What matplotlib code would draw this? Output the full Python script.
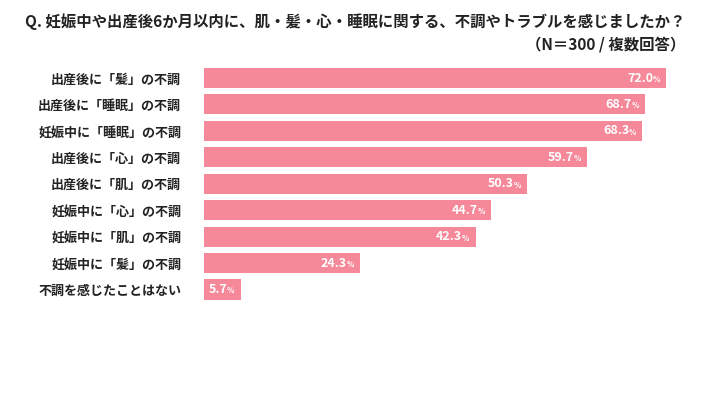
import matplotlib
matplotlib.use("Agg")
import matplotlib.pyplot as plt

plt.rcParams['font.family'] = ['Noto Sans CJK JP', 'DejaVu Sans']

categories = ["出産後に「髪」の不調", "出産後に「睡眠」の不調", "妊娠中に「睡眠」の不調",
              "出産後に「心」の不調", "出産後に「肌」の不調", "妊娠中に「心」の不調",
              "妊娠中に「肌」の不調", "妊娠中に「髪」の不調", "不調を感じたことはない"]
values = [72.0, 68.7, 68.3, 59.7, 50.3, 44.7, 42.3, 24.3, 5.7]
title1 = "Q. 妊娠中や出産後6か月以内に、肌・髪・心・睡眠に関する、不調やトラブルを感じましたか？"
title2 = "（N＝300 / 複数回答）"

W, H = 710, 399
fig = plt.figure(figsize=(W/100, H/100), dpi=100)
ax = fig.add_axes([204/W, (H-302.7)/H, 481.5/W, (302.7-64.8)/H])
color = "#F5899A"
y = list(range(len(categories)))
ax.barh(y, values, height=0.76, color=color)
ax.set_xlim(0, 75)
ax.set_ylim(len(categories)-0.5, -0.5)
ax.set_yticks(y)
ax.set_yticklabels(categories, fontsize=9.4, fontweight='bold', color="#222222")
ax.tick_params(axis='y', length=0, pad=16.5)
ax.set_xticks([])
for s in ax.spines.values():
    s.set_visible(False)

for yi, v in zip(y, values):
    ax.annotate(f"{v:.1f}", xy=(v, yi), xytext=(-9.5, 0), textcoords='offset points',
                ha='right', va='center', color='white', fontsize=9, fontweight='bold')
    ax.annotate("%", xy=(v, yi), xytext=(-4.5, -1), textcoords='offset points',
                ha='right', va='center', color='white', fontsize=5.5, fontweight='bold')

fig.text(685/W, 1-22/H, title1, ha='right', va='center', fontsize=11.1, fontweight='bold', color="#222222")
fig.text(685/W, 1-44/H, title2, ha='right', va='center', fontsize=11.1, fontweight='bold', color="#222222")

fig.savefig("out.png", dpi=100, facecolor='white')
